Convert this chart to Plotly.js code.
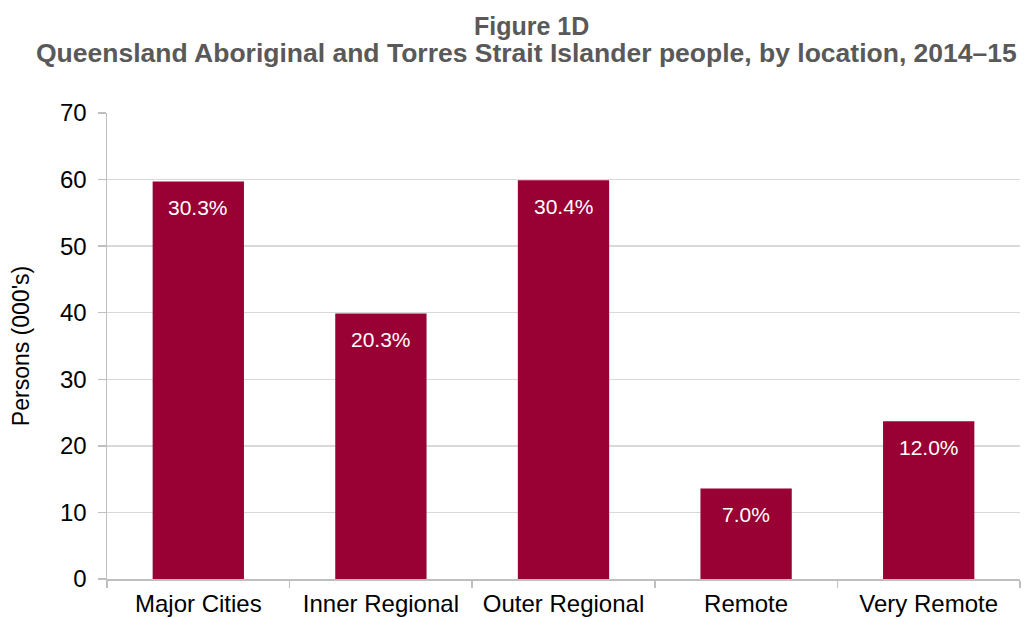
<!DOCTYPE html>
<html>
<head>
<meta charset="utf-8">
<script src="https://cdn.plot.ly/plotly-3.0.1.min.js"></script>
<style>html,body{margin:0;padding:0;background:#fff;}#chart{width:1030px;height:619px;}</style>
</head>
<body>
<div id="chart"></div>
<script>
const categories = ["Major Cities", "Inner Regional", "Outer Regional", "Remote", "Very Remote"];
const persons = [59.7, 39.9, 59.9, 13.6, 23.7];
const shareLabels = ["30.3%", "20.3%", "30.4%", "7.0%", "12.0%"];
const yTicks = [0, 10, 20, 30, 40, 50, 60, 70];

const barColor = "#990033";
const font = "Liberation Sans, Arial, sans-serif";

const trace = {
  type: "bar",
  x: categories,
  y: persons,
  marker: {color: barColor, line: {width: 0}},
  hoverinfo: "skip"
};

const annotations = categories.map((c, i) => ({
  x: c, y: persons[i], xref: "x", yref: "y",
  text: shareLabels[i], showarrow: false,
  yanchor: "middle", yshift: -26,
  font: {family: font, size: 21, color: "#ffffff"}
}));

annotations.push({
  xref: "paper", yref: "paper", x: 0.465, y: 1, yanchor: "bottom", yshift: 71,
  text: "<b>Figure 1D</b>", showarrow: false,
  font: {family: font, size: 25, color: "#595959"}
});
annotations.push({
  xref: "paper", yref: "paper", x: 0.46, y: 1, yanchor: "bottom", yshift: 43,
  text: "<b>Queensland Aboriginal and Torres Strait Islander people, by location, 2014–15</b>", showarrow: false,
  font: {family: font, size: 26.5, color: "#595959"}
});

const layout = {
  width: 1030, height: 619,
  margin: {l: 107, r: 10, t: 113, b: 40},
  paper_bgcolor: "#ffffff", plot_bgcolor: "#ffffff",
  bargap: 0.5,
  showlegend: false,
  font: {family: font, color: "#000000"},
  xaxis: {
    type: "category",
    tickson: "boundaries",
    ticks: "outside", ticklen: 7, tickcolor: "#bfbfbf", tickwidth: 1.5,
    showline: true, linecolor: "#bfbfbf", linewidth: 1.5,
    showgrid: false, zeroline: false,
    ticklabelstandoff: 3,
    tickfont: {family: font, size: 24, color: "#000000"}
  },
  yaxis: {
    range: [0, 70],
    tickvals: yTicks,
    ticks: "outside", ticklen: 8, tickcolor: "#bfbfbf", tickwidth: 1.5,
    showline: true, linecolor: "#bfbfbf", linewidth: 1.5,
    showgrid: true, gridcolor: "#d9d9d9", gridwidth: 1.5,
    zeroline: false,
    ticklabelstandoff: 6,
    tickfont: {family: font, size: 24, color: "#000000"},
    title: {text: "Persons (000's)", standoff: 24, font: {family: font, size: 23, color: "#000000"}}
  },
  annotations: annotations
};

Plotly.newPlot("chart", [trace], layout, {displayModeBar: false, staticPlot: true});
</script>
</body>
</html>
